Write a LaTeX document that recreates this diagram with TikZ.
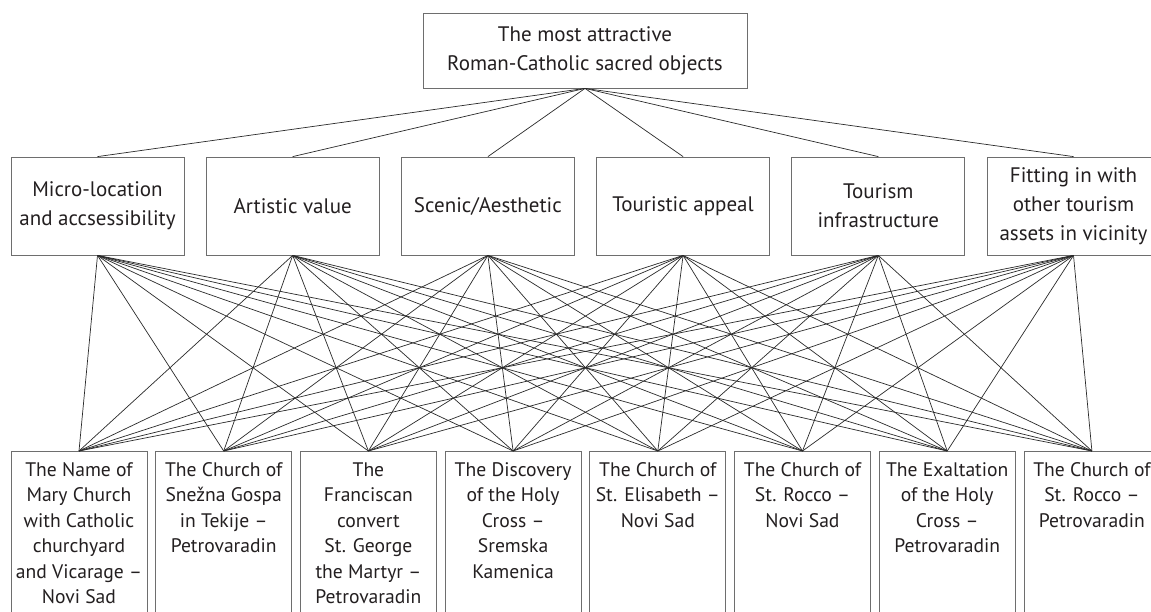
\documentclass[tikz,border=0pt]{standalone}
\usepackage{fontspec}
\setmainfont{PT Sans}
\definecolor{boxgray}{HTML}{6E6E6E}
\definecolor{linegray}{HTML}{2A2A2A}
\definecolor{textgray}{HTML}{231F20}
\begin{document}
\begin{tikzpicture}[x=1pt,y=-1pt,
  topbox/.style={draw=boxgray, line width=0.8pt, minimum width=324pt, minimum height=75pt, inner sep=0pt,
    align=center, text=textgray, font=\fontsize{21}{29}\selectfont},
  midbox/.style={draw=boxgray, line width=0.8pt, minimum width=173pt, minimum height=98pt, inner sep=0pt,
    align=center, text=textgray, font=\fontsize{21}{29}\selectfont},
  botbox/.style={draw=boxgray, line width=0.8pt, minimum width=136pt, minimum height=220pt, inner sep=0pt, anchor=north},
  bottext/.style={anchor=north, inner sep=0pt, align=center, text=textgray, font=\fontsize{19.6}{25.4}\selectfont},
  link/.style={draw=linegray, line width=0.7pt}]
\useasboundingbox (0,0) rectangle (1151,611);
\clip (0,0) rectangle (1151,611);
\fill[white] (0,0) rectangle (1151,611);

% top
\node[topbox] (top) at (585,50.5) {The most attractive\\Roman-Catholic sacred objects};

% criteria
\node[midbox] (m1) at (97.5,206) {Micro-location\\and accsessibility};
\node[midbox] (m2) at (292.7,206) {Artistic value};
\node[midbox] (m3) at (487.9,206) {Scenic/Aesthetic};
\node[midbox] (m4) at (683.1,206) {Touristic appeal};
\node[midbox] (m5) at (878.3,206) {Tourism\\infrastructure};
\node[midbox] (m6) at (1073.5,206) {Fitting in with\\other tourism\\assets in vicinity};

% alternatives: boxes
\node[botbox] (b1) at (79,451) {};
\node[botbox] (b2) at (223.7,451) {};
\node[botbox] (b3) at (368.4,451) {};
\node[botbox] (b4) at (513.1,451) {};
\node[botbox] (b5) at (657.8,451) {};
\node[botbox] (b6) at (802.5,451) {};
\node[botbox] (b7) at (947.2,451) {};
\node[botbox] (b8) at (1091.9,451) {};

% alternatives: texts
\node[bottext] (t1) at (79,458.5) {\strut The Name of\\Mary Church\\with Catholic\\churchyard\\and Vicarage –\\Novi Sad};
\node[bottext] (t2) at (223.7,458.5) {\strut The Church of\\Snežna Gospa\\in Tekije –\\Petrovaradin};
\node[bottext] (t3) at (368.4,458.5) {\strut The\\Franciscan\\convert\\St. George\\the Martyr –\\Petrovaradin};
\node[bottext] (t4) at (513.1,458.5) {\strut The Discovery\\of the Holy\\Cross –\\Sremska\\Kamenica};
\node[bottext] (t5) at (657.8,458.5) {\strut The Church of\\St. Elisabeth –\\Novi Sad};
\node[bottext] (t6) at (802.5,458.5) {\strut The Church of\\St. Rocco –\\Novi Sad};
\node[bottext] (t7) at (947.2,458.5) {\strut The Exaltation\\of the Holy\\Cross –\\Petrovaradin};
\node[bottext] (t8) at (1091.9,458.5) {\strut The Church of\\St. Rocco –\\Petrovaradin};

% connectors
\foreach \m in {1,...,6} {
  \draw[link] (top.south) -- (m\m.north);
  \foreach \b in {1,...,8} {
    \draw[link] (m\m.south) -- (b\b.north);
  }
}
\end{tikzpicture}
\end{document}
